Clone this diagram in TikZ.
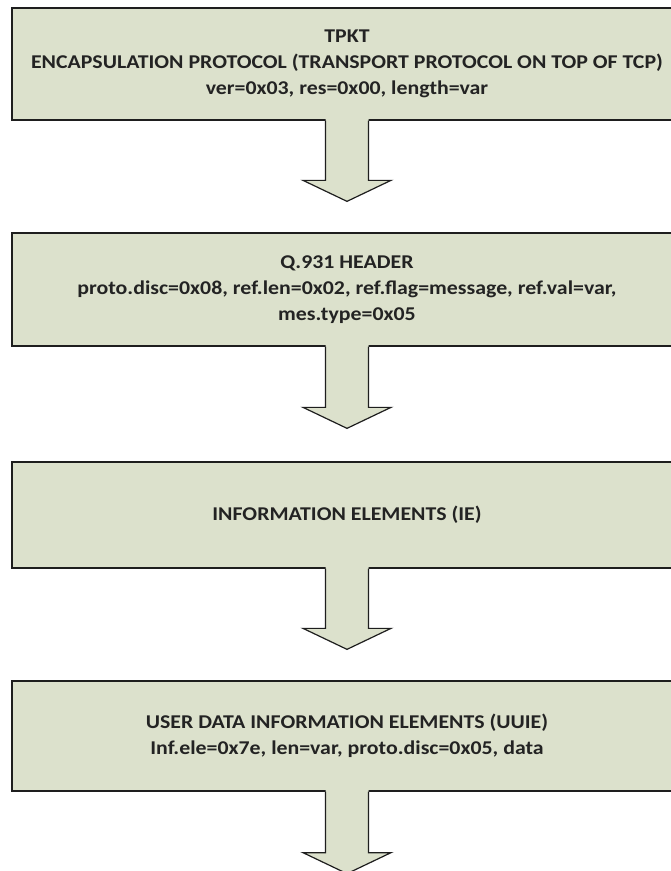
\documentclass[tikz,border=0pt]{standalone}
\usepackage{fontspec}
\setmainfont{Carlito}[FakeStretch=1.12]
\usetikzlibrary{calc}
\definecolor{boxfill}{RGB}{220,225,204}
\definecolor{edge}{RGB}{30,30,30}
\definecolor{ink}{RGB}{35,35,35}
\newcommand\flowarrow[2]{%
  \fill[boxfill] ($(#1.south)+(-21.5,-2)$) -- ($(#2)+(-21.5,-21)$) -- ($(#2)+(-44,-21)$) -- (#2)
     -- ($(#2)+(44,-21)$) -- ($(#2)+(21.5,-21)$) -- ($(#1.south)+(21.5,-2)$) -- cycle;
  \draw[arrowline] ($(#1.south)+(-21.5,0)$) -- ($(#2)+(-21.5,-21)$) -- ($(#2)+(-44,-21)$) -- (#2)
     -- ($(#2)+(44,-21)$) -- ($(#2)+(21.5,-21)$) -- ($(#1.south)+(21.5,0)$);}
\begin{document}
\begin{tikzpicture}[x=1pt,y=-1pt,
  layerbox/.style={draw=edge, line width=1.3pt, fill=boxfill, minimum width=670pt,
    align=center, inner sep=0pt, text=ink,
    font=\bfseries\fontsize{19.5}{26}\selectfont},
  arrowline/.style={draw=edge, line width=1.2pt, line join=miter}]
\useasboundingbox (0,0) rectangle (671,871);
\clip (0,0) rectangle (671,871);
\fill[white] (0,0) rectangle (671,871);
\node[layerbox, minimum height=112pt] (tpkt) at (347,64)
  {TPKT\\ENCAPSULATION PROTOCOL (TRANSPORT PROTOCOL ON TOP OF TCP)\\ver=0x03, res=0x00, length=var};
\node[layerbox, minimum height=113pt] (q931) at (347,289.5)
  {Q.931 HEADER\\proto.disc=0x08, ref.len=0x02, ref.flag=message, ref.val=var,\\mes.type=0x05};
\node[layerbox, minimum height=106pt] (ie) at (347,515)
  {INFORMATION ELEMENTS (IE)};
\node[layerbox, minimum height=110pt] (uuie) at (347,736)
  {USER DATA INFORMATION ELEMENTS (UUIE)\\Inf.ele=0x7e, len=var, proto.disc=0x05, data};
\coordinate (t1) at ($(q931.north)+(0,-31)$);
\coordinate (t2) at ($(ie.north)+(0,-33)$);
\coordinate (t3) at ($(uuie.north)+(0,-31)$);
\coordinate (t4) at ($(uuie.south)+(0,82)$);
\flowarrow{tpkt}{t1}
\flowarrow{q931}{t2}
\flowarrow{ie}{t3}
\flowarrow{uuie}{t4}
\end{tikzpicture}
\end{document}
